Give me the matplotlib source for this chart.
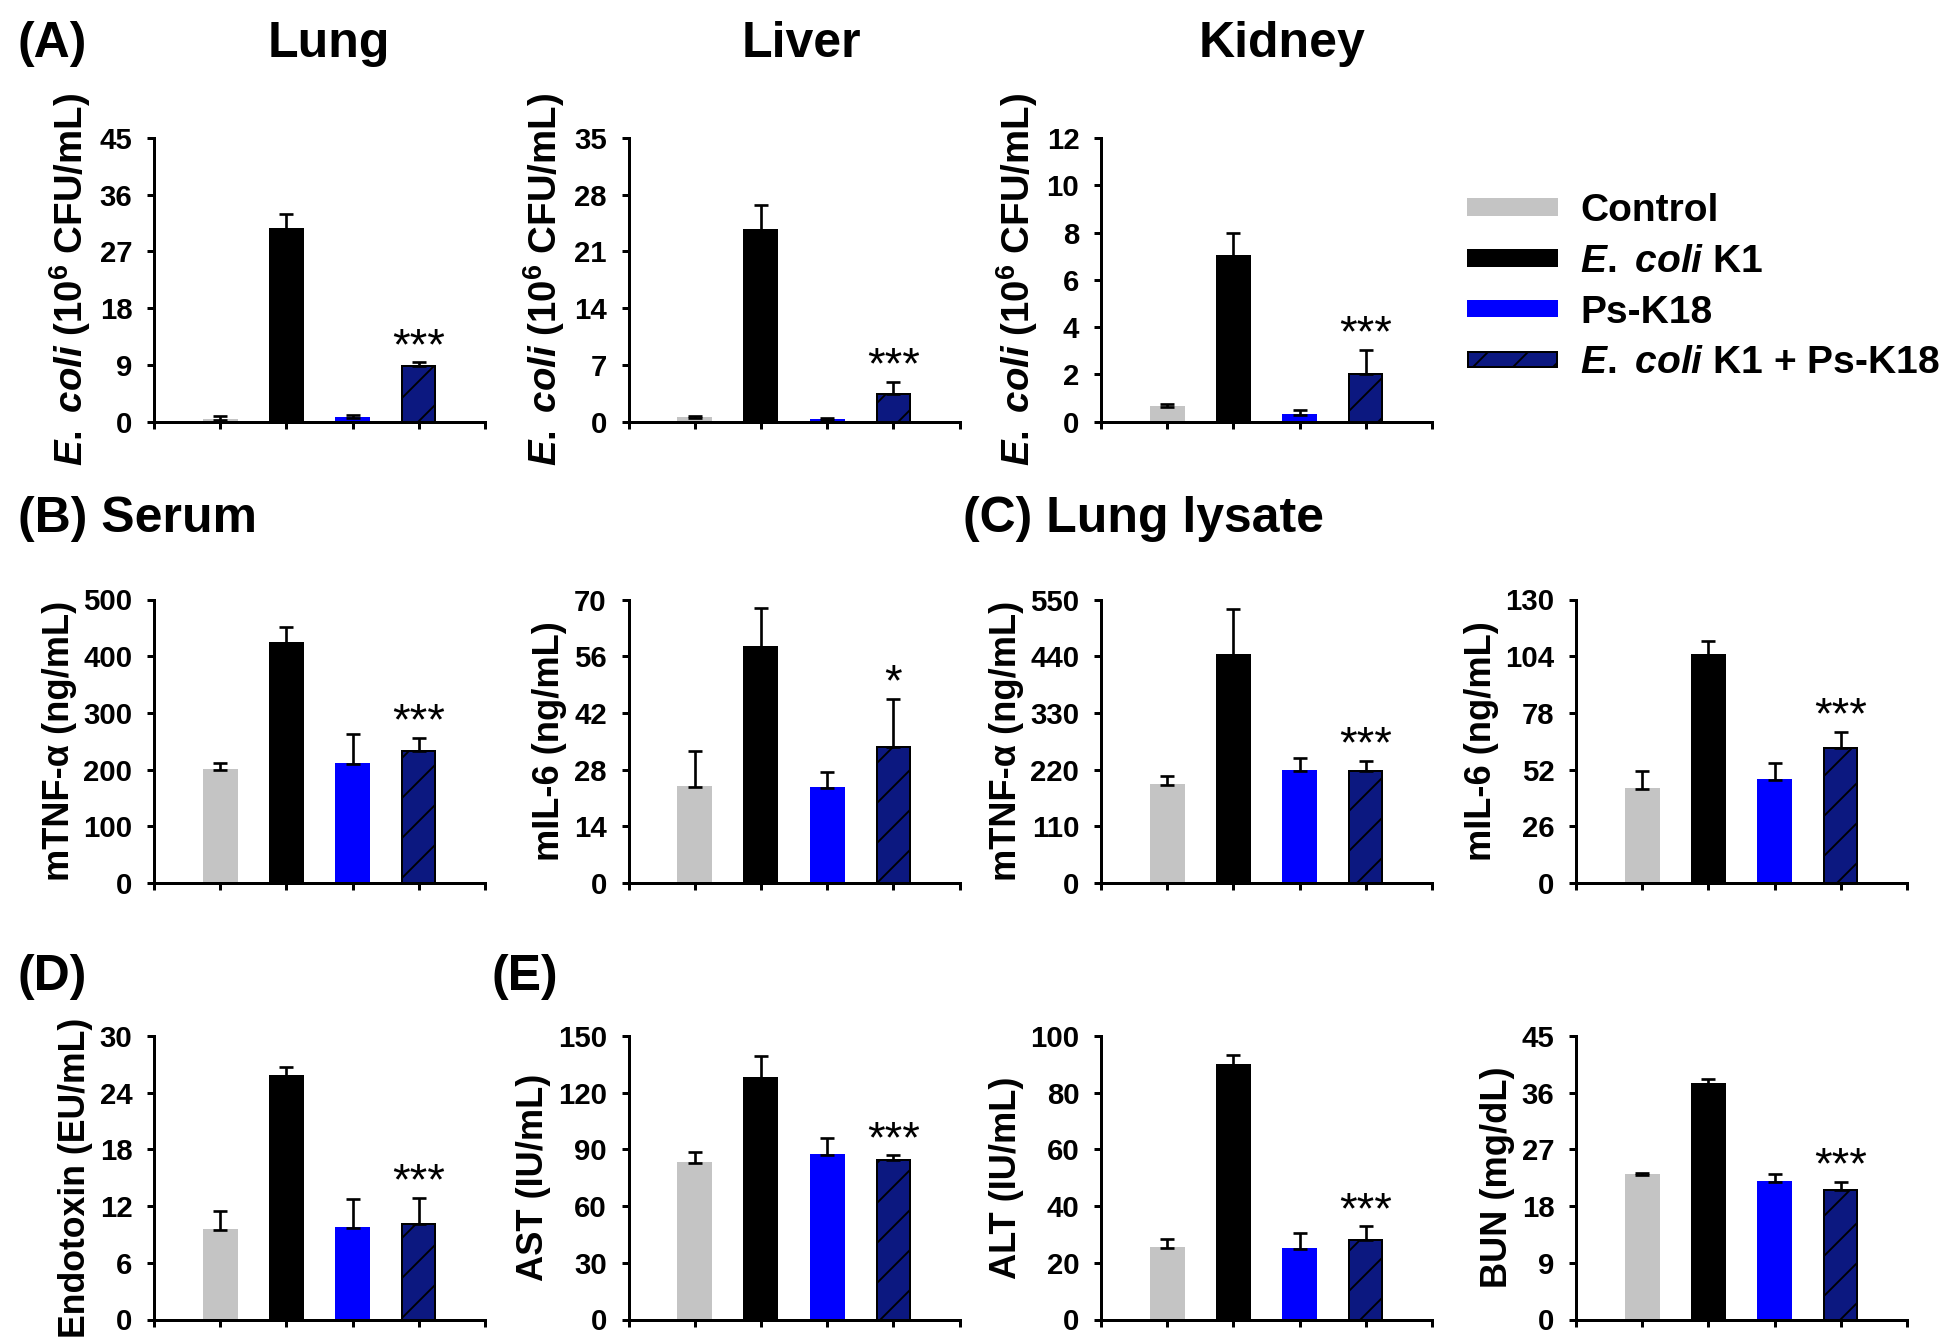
import numpy as np
import matplotlib
matplotlib.use('Agg')
import matplotlib.pyplot as plt

plt.rcParams['font.family'] = ['Liberation Sans', 'DejaVu Sans']
plt.rcParams['font.weight'] = 'bold'
plt.rcParams['axes.labelweight'] = 'bold'
plt.rcParams['mathtext.fontset'] = 'custom'
plt.rcParams['mathtext.rm'] = 'Liberation Sans:bold'
plt.rcParams['mathtext.it'] = 'Liberation Sans:italic:bold'
plt.rcParams['mathtext.bf'] = 'Liberation Sans:bold'
plt.rcParams['hatch.linewidth'] = 0.55
plt.rcParams['axes.linewidth'] = 0.9

groups = ['Control', r'$\mathit{E.}$ $\mathit{coli}$ K1', 'Ps-K18',
          r'$\mathit{E.}$ $\mathit{coli}$ K1 + Ps-K18']
colors = ['#c4c4c4', '#000000', '#0000ff', '#0c1880']
edges = ['#c4c4c4', '#000000', '#0000ff', '#000000']

# (A) bacterial counts, 10^6 CFU/mL
lung_cfu = [0.3, 30.5, 0.6, 8.8]
lung_cfu_err = [0.6, 2.4, 0.4, 0.6]
liver_cfu = [0.4, 23.6, 0.2, 3.4]
liver_cfu_err = [0.3, 3.1, 0.2, 1.5]
kidney_cfu = [0.62, 7.0, 0.28, 2.02]
kidney_cfu_err = [0.1, 1.0, 0.22, 1.0]

# (B) serum cytokines
serum_tnf = [200, 423, 209, 233]
serum_tnf_err = [12, 28, 54, 23]
serum_il6 = [23.7, 58.2, 23.5, 33.6]
serum_il6_err = [8.9, 9.6, 3.9, 11.8]

# (C) lung lysate cytokines
lung_tnf = [191, 442, 218, 218]
lung_tnf_err = [17, 89, 25, 19]
lung_il6 = [43, 104.7, 47.1, 61.7]
lung_il6_err = [8.4, 6.1, 7.7, 7.7]

# (D) endotoxin, (E) organ function
endotoxin = [9.5, 25.8, 9.7, 10.1]
endotoxin_err = [2.0, 0.9, 3.0, 2.8]
ast = [83, 128, 87.3, 84.3]
ast_err = [5.7, 11.3, 8.5, 2.6]
alt = [25.3, 89.8, 25.0, 27.9]
alt_err = [3.0, 3.5, 5.6, 5.0]
bun = [22.9, 37.4, 21.9, 20.6]
bun_err = [0.3, 0.7, 1.2, 1.2]

W, H = 1941, 1338
DPI = 240
fig = plt.figure(figsize=(W / DPI, H / DPI), dpi=DPI)

cols = [154, 628.5, 1101, 1576]
tops = [138, 599.5, 1036]
aw, ah = 331, 283.5

cfu_label = r'$\mathit{E.}$ $\mathit{coli}$ (10$^{6}$ CFU/mL)'


def panel(col, row, vals, errs, ymax, step, ylabel, star, lsize=10.9):
    ax = fig.add_axes([cols[col] / W, 1 - (tops[row] + ah) / H, aw / W, ah / H])
    x = np.arange(4)
    bars = ax.bar(x, vals, width=0.5, color=colors, edgecolor=edges, linewidth=0.6, zorder=2)
    bars[3].set_hatch('//')
    for b, g in zip(bars, groups):
        b.set_label(g)
    ax.errorbar(x, vals, yerr=[np.zeros(4), errs], fmt='none', ecolor='black',
                elinewidth=0.8, capsize=2, capthick=0.8, zorder=3)
    ax.annotate(star, xy=(3, vals[3] + errs[3]), xytext=(0, 1), textcoords='offset points',
                ha='center', va='baseline', fontsize=13.5, fontweight='normal')
    ax.set_xlim(-1, 4)
    ax.set_ylim(0, ymax)
    ax.set_xticks(range(-1, 5))
    ax.set_xticklabels([])
    yt = np.arange(0, ymax + step / 2, step)
    ax.set_yticks(yt)
    ax.set_yticklabels([f'{t:g}' for t in yt], fontsize=8.8, fontweight='bold')
    ax.spines['top'].set_visible(False)
    ax.spines['right'].set_visible(False)
    ax.tick_params(axis='y', direction='out', length=2, width=0.9, pad=4.5)
    ax.tick_params(axis='x', direction='out', length=2, width=0.9)
    ax.set_ylabel(ylabel, fontsize=lsize, fontweight='bold', labelpad=2)
    return bars


bars = panel(0, 0, lung_cfu, lung_cfu_err, 45, 9, cfu_label, '***', 11.5)
panel(1, 0, liver_cfu, liver_cfu_err, 35, 7, cfu_label, '***', 11.5)
panel(2, 0, kidney_cfu, kidney_cfu_err, 12, 2, cfu_label, '***', 11.5)

panel(0, 1, serum_tnf, serum_tnf_err, 500, 100, 'mTNF-α (ng/mL)', '***')
panel(1, 1, serum_il6, serum_il6_err, 70, 14, 'mIL-6 (ng/mL)', '*')
panel(2, 1, lung_tnf, lung_tnf_err, 550, 110, 'mTNF-α (ng/mL)', '***')
panel(3, 1, lung_il6, lung_il6_err, 130, 26, 'mIL-6 (ng/mL)', '***')

panel(0, 2, endotoxin, endotoxin_err, 30, 6, 'Endotoxin (EU/mL)', '***', 10.7)
panel(1, 2, ast, ast_err, 150, 30, 'AST (IU/mL)', '***')
panel(2, 2, alt, alt_err, 100, 20, 'ALT (IU/mL)', '***')
panel(3, 2, bun, bun_err, 45, 9, 'BUN (mg/dL)', '***')

# panel letters and titles
fig.text(18 / W, 1 - 57 / H, '(A)', fontsize=15, va='baseline')
fig.text(329 / W, 1 - 57 / H, 'Lung', fontsize=15, va='baseline', ha='center')
fig.text(801 / W, 1 - 57 / H, 'Liver', fontsize=15, va='baseline', ha='center')
fig.text(1282 / W, 1 - 57 / H, 'Kidney', fontsize=15, va='baseline', ha='center')
fig.text(18 / W, 1 - 532 / H, '(B) Serum', fontsize=15, va='baseline')
fig.text(963 / W, 1 - 532 / H, '(C) Lung lysate', fontsize=15, va='baseline')
fig.text(18 / W, 1 - 990 / H, '(D)', fontsize=15, va='baseline')
fig.text(492 / W, 1 - 990 / H, '(E)', fontsize=15, va='baseline')

fig.legend(handles=list(bars), labels=groups, loc='upper left',
           bbox_to_anchor=(1468 / W, 1 - 193 / H), frameon=False, fontsize=11.7,
           handlelength=2.28, handleheight=0.24, handletextpad=0.6,
           labelspacing=0.38, borderpad=0, borderaxespad=0)

fig.savefig('out.png', dpi=DPI, facecolor='white')
